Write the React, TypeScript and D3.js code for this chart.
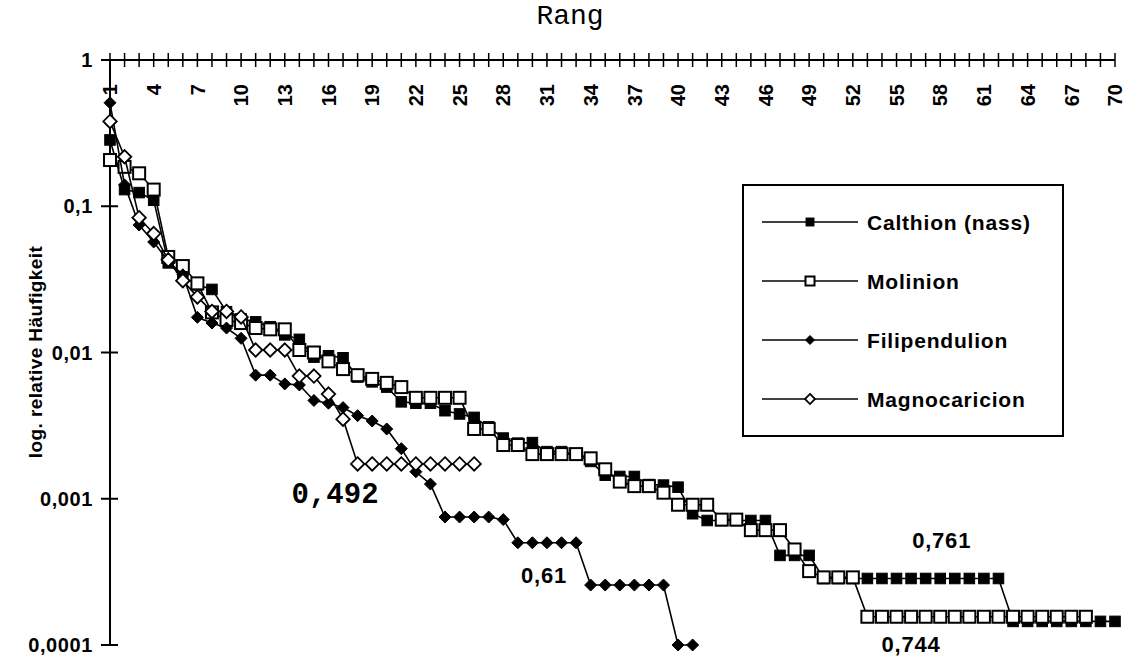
import * as d3 from 'd3';

// ranks on the top axis
const ranks = d3.range(1, 71);
const rankLabels = ranks.filter(r => (r - 1) % 3 === 0);

const yTicks = [1, 0.1, 0.01, 0.001, 0.0001];
const yTickLabels = ['1', '0,1', '0,01', '0,001', '0,0001'];

// relative frequencies per rank
const calthion = [
  0.284, 0.13, 0.124, 0.11, 0.041, 0.033, 0.029, 0.027, 0.019, 0.017,
  0.0162, 0.015, 0.0132, 0.0123, 0.0093, 0.0095, 0.0092, 0.0068, 0.0063, 0.0058,
  0.0046, 0.0045, 0.0045, 0.004, 0.0038, 0.0036, 0.0031, 0.0026, 0.0024, 0.00242,
  0.0021, 0.0021, 0.002, 0.0018, 0.00145, 0.00142, 0.00142, 0.00125, 0.00124, 0.0012,
  0.00079, 0.00071, 0.00071, 0.00071, 0.00071, 0.00071, 0.00041, 0.00041, 0.00041, 0.000285,
  0.000285, 0.000285, 0.000285, 0.000285, 0.000285, 0.000285, 0.000285, 0.000285, 0.000285, 0.000285,
  0.000285, 0.000285, 0.000145, 0.000145, 0.000145, 0.000145, 0.000145, 0.000145, 0.000145, 0.000145,
];

const molinion = [
  0.207, 0.186, 0.168, 0.13, 0.045, 0.039, 0.0297, 0.0188, 0.0167, 0.0159,
  0.0147, 0.0144, 0.0144, 0.0104, 0.01, 0.0087, 0.0077, 0.007, 0.0066, 0.0062,
  0.0058, 0.0049, 0.0049, 0.0049, 0.0049, 0.003, 0.003, 0.00233, 0.00233, 0.00202,
  0.00202, 0.00202, 0.00202, 0.00189, 0.00159, 0.00131, 0.00122, 0.00122, 0.0011, 0.00091,
  0.00091, 0.00091, 0.00072, 0.00072, 0.00061, 0.00061, 0.00061, 0.00045, 0.00032, 0.00029,
  0.00029, 0.00029, 0.000156, 0.000156, 0.000156, 0.000156, 0.000156, 0.000156, 0.000156, 0.000156,
  0.000156, 0.000156, 0.000156, 0.000156, 0.000156, 0.000156, 0.000156, 0.000156,
];

const filipendulion = [
  0.51, 0.14, 0.0744, 0.057, 0.042, 0.034, 0.0174, 0.0159, 0.0147, 0.0125,
  0.007, 0.007, 0.0061, 0.006, 0.0047, 0.0045, 0.0042, 0.0037, 0.0034, 0.003,
  0.0022, 0.00153, 0.00126, 0.00075, 0.00075, 0.00075, 0.00075, 0.00072, 0.0005, 0.0005,
  0.0005, 0.0005, 0.0005, 0.000257, 0.000257, 0.000257, 0.000257, 0.000257, 0.000257, 0.0001,
  0.0001,
];

const magnocaricion = [
  0.38, 0.218, 0.0835, 0.065, 0.043, 0.031, 0.024, 0.0191, 0.0191, 0.0175,
  0.0104, 0.0104, 0.0104, 0.0069, 0.0069, 0.0052, 0.0035, 0.00173, 0.00173, 0.00173,
  0.00173, 0.00173, 0.00173, 0.00173, 0.00173, 0.00173,
];

const seriesNames = ['Calthion (nass)', 'Molinion', 'Filipendulion', 'Magnocaricion'];
const seriesValues = [calthion, molinion, filipendulion, magnocaricion];
const seriesMarkers = ['square', 'square', 'diamond', 'diamond'];
const seriesFilled = [true, false, true, false];

// evenness values written into the plot
const noteTexts = ['0,492', '0,61', '0,761', '0,744'];
const noteRanks = [16.45, 30.8, 58.1, 56];
const noteValues = [0.000935, 0.000265, 0.00046, 0.0000895];
const noteMono = [true, false, false, false];

const W = 1138;
const H = 657;
const sans = 'Liberation Sans, Arial, sans-serif';
const mono = 'Liberation Mono, Courier New, monospace';

function Marker({ kind, filled, x, y, s }) {
  const fill = filled ? '#000' : '#fff';
  if (kind === 'square') {
    const h = filled ? s * 0.44 : s / 2;
    return <rect x={x - h} y={y - h} width={h * 2} height={h * 2} fill={fill} stroke="#000" strokeWidth={filled ? 1 : 2} />;
  }
  const h = filled ? s * 0.5 : s * 0.56;
  return (
    <path d={`M${x},${y - h}L${x + h},${y}L${x},${y + h}L${x - h},${y}Z`} fill={fill} stroke="#000" strokeWidth={filled ? 1 : 1.8} />
  );
}

export default function App() {
  const x = d3.scaleLinear().domain([1, 70]).range([110, 1115]);
  const y = d3.scaleLog().domain([0.0001, 1]).range([645, 60]);

  const line = d3.line<number>()
    .x((d, i) => x(ranks[i]))
    .y(d => y(d));

  return (
    <svg width={W} height={H} style={{ position: 'absolute', left: 0, top: 0, background: '#fff' }}>
      <rect width={W} height={H} fill="#fff" />

      {/* title on top */}
      <text x={570} y={24} textAnchor="middle" fontFamily={mono} fontSize={28}>Rang</text>

      {/* y axis */}
      <line x1={x(1)} x2={x(1)} y1={y(1)} y2={y(0.0001)} stroke="#000" strokeWidth={2} />
      {yTicks.map((t, i) => (
        <g key={t}>
          <line x1={x(1) - 9} x2={x(1) + (i === 0 ? 0 : 8)} y1={y(t)} y2={y(t)} stroke="#000" strokeWidth={2} />
          <text x={93} y={y(t)} dy="0.36em" textAnchor="end" fontFamily={sans} fontSize={20} fontWeight="bold" letterSpacing={0.6}>
            {yTickLabels[i]}
          </text>
        </g>
      ))}
      <text transform={`translate(42,352) rotate(-90)`} textAnchor="middle" fontFamily={sans} fontSize={19} fontWeight="bold" letterSpacing={0.4}>
        log. relative Häufigkeit
      </text>

      {/* top x axis */}
      <line x1={x(1)} x2={x(70)} y1={y(1)} y2={y(1)} stroke="#000" strokeWidth={2} />
      {ranks.map(r => (
        <line key={r} x1={x(r)} x2={x(r)} y1={y(1) - 7} y2={y(1) + 7} stroke="#000" strokeWidth={1.5} />
      ))}
      {rankLabels.map(r => (
        <text key={r} transform={`translate(${x(r)},84) rotate(-90)`} dy="0.36em" textAnchor="end" fontFamily={sans} fontSize={20} fontWeight="bold">
          {r}
        </text>
      ))}

      {/* series */}
      {seriesValues.map((vals, si) => (
        <g key={seriesNames[si]}>
          <path d={line(vals) || ''} fill="none" stroke="#000" strokeWidth={1.6} />
          {vals.map((v, i) => (
            <Marker key={i} kind={seriesMarkers[si]} filled={seriesFilled[si]} x={x(ranks[i])} y={y(v)} s={12} />
          ))}
        </g>
      ))}

      {/* annotations */}
      {noteTexts.map((t, i) => (
        <text key={t} x={x(noteRanks[i])} y={y(noteValues[i])} textAnchor="middle"
          fontFamily={noteMono[i] ? mono : sans} fontSize={noteMono[i] ? 29 : 22} fontWeight="bold"
          letterSpacing={noteMono[i] ? 0 : 0.8}>
          {t}
        </text>
      ))}

      {/* legend */}
      <rect x={743} y={185} width={320} height={251} fill="#fff" stroke="#000" strokeWidth={2} />
      {seriesNames.map((n, i) => {
        const ly = 222 + i * 59;
        return (
          <g key={n}>
            <line x1={762} x2={858} y1={ly} y2={ly} stroke="#000" strokeWidth={1.6} />
            <Marker kind={seriesMarkers[i]} filled={seriesFilled[i]} x={810} y={ly} s={9} />
            <text x={867} y={ly} dy="0.36em" fontFamily={sans} fontSize={21} fontWeight="bold" letterSpacing={0.8}>{n}</text>
          </g>
        );
      })}
    </svg>
  );
}
